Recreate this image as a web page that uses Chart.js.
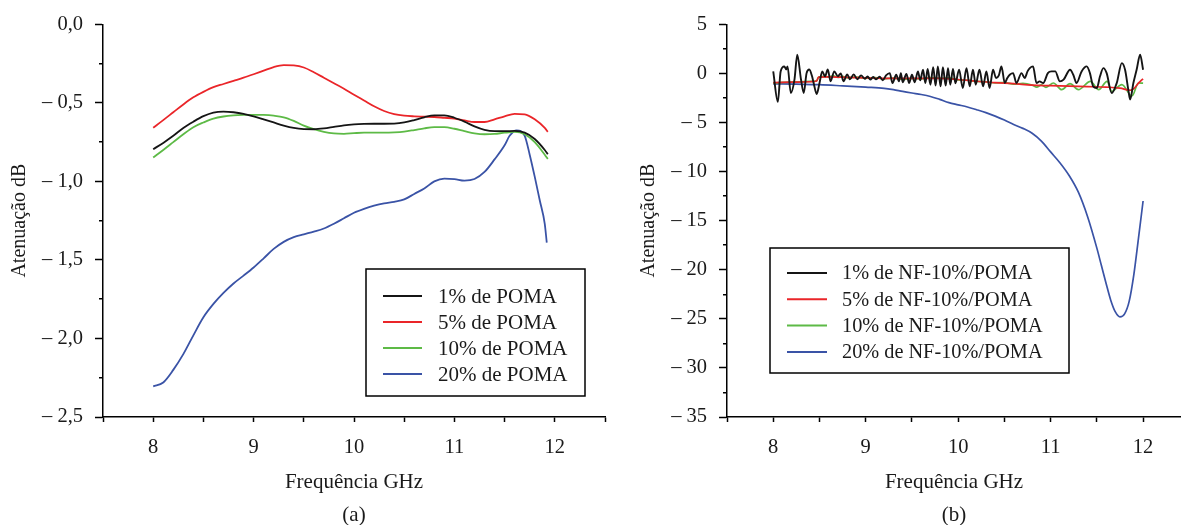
<!DOCTYPE html>
<html>
<head>
<meta charset="utf-8">
<script src="https://cdn.jsdelivr.net/npm/chart.js@4/dist/chart.umd.min.js"></script>
<style>
  body { margin: 0; background: #fff; }
  #wrap { position: relative; width: 1181px; height: 525px; }
  canvas { position: absolute; top: 0; }
</style>
</head>
<body>
<div id="wrap">
  <canvas id="chartA" width="620" height="525" style="left:0"></canvas>
  <canvas id="chartB" width="561" height="525" style="left:620px"></canvas>
</div>
<script>
// (a) POMA
const freqA = [8.0, 8.1, 8.2, 8.3, 8.4, 8.5, 8.6, 8.7, 8.8, 8.9, 9.0, 9.1, 9.2, 9.3, 9.4, 9.5, 9.6, 9.7, 9.8, 9.9,
  10.0, 10.1, 10.2, 10.3, 10.4, 10.5, 10.6, 10.7, 10.8, 10.9, 11.0, 11.1, 11.2, 11.3, 11.4, 11.5, 11.6, 11.7, 11.8, 11.9, 11.93];
const poma1 = [-0.795, -0.755, -0.71, -0.66, -0.62, -0.585, -0.562, -0.556, -0.56, -0.57, -0.586, -0.605, -0.625, -0.645, -0.66, -0.667, -0.668, -0.663, -0.653, -0.643,
  -0.637, -0.634, -0.633, -0.633, -0.632, -0.625, -0.61, -0.592, -0.58, -0.58, -0.595, -0.62, -0.65, -0.672, -0.68, -0.68, -0.679, -0.69, -0.73, -0.80, -0.827];
const poma5 = [-0.658, -0.61, -0.56, -0.51, -0.465, -0.43, -0.40, -0.38, -0.36, -0.34, -0.318, -0.295, -0.272, -0.26, -0.262, -0.275, -0.305, -0.34, -0.375, -0.41,
  -0.448, -0.485, -0.522, -0.552, -0.572, -0.582, -0.586, -0.588, -0.59, -0.595, -0.60, -0.612, -0.622, -0.622, -0.605, -0.586, -0.57, -0.573, -0.605, -0.66, -0.685];
const poma10 = [-0.848, -0.80, -0.75, -0.70, -0.655, -0.625, -0.60, -0.587, -0.58, -0.577, -0.576, -0.577, -0.582, -0.592, -0.615, -0.645, -0.668, -0.685, -0.695, -0.697,
  -0.693, -0.69, -0.69, -0.69, -0.688, -0.683, -0.673, -0.662, -0.655, -0.655, -0.665, -0.68, -0.694, -0.70, -0.698, -0.69, -0.685, -0.70, -0.75, -0.83, -0.857];
const freqA20 = [8.0, 8.1, 8.2, 8.3, 8.4, 8.5, 8.6, 8.7, 8.8, 8.9, 9.0, 9.1, 9.2, 9.3, 9.4, 9.5, 9.6, 9.7, 9.8, 9.9,
  10.0, 10.1, 10.2, 10.3, 10.4, 10.5, 10.6, 10.7, 10.8, 10.9, 11.0, 11.1, 11.2, 11.3, 11.4, 11.5, 11.55, 11.62, 11.7, 11.75, 11.8, 11.85, 11.9, 11.92];
const poma20 = [-2.305, -2.28, -2.20, -2.10, -1.98, -1.865, -1.78, -1.71, -1.65, -1.60, -1.548, -1.49, -1.43, -1.385, -1.355, -1.337, -1.32, -1.30, -1.27, -1.235,
  -1.20, -1.175, -1.155, -1.14, -1.13, -1.115, -1.08, -1.045, -1.00, -0.982, -0.985, -0.995, -0.985, -0.94, -0.86, -0.77, -0.71, -0.675, -0.71, -0.83, -0.97, -1.12, -1.27, -1.39];

const xTicksA = [7.5, 8, 8.5, 9, 9.5, 10, 10.5, 11, 11.5, 12, 12.5];
const yTicksA = [-2.5, -2.0, -1.5, -1.0, -0.5, 0];
const yLabelsA = ['\u2013 2,5', '\u2013 2,0', '\u2013 1,5', '\u2013 1,0', '\u2013 0,5', '0,0'];
const yMinorA = [-2.25, -1.75, -1.25, -0.75, -0.25];

// (b) NF-10%/POMA
const nf1Freq = [8.00, 8.05, 8.08, 8.12, 8.14, 8.155, 8.19, 8.23, 8.26, 8.30, 8.33, 8.36, 8.39, 8.42, 8.44, 8.47, 8.50, 8.53, 8.56, 8.59,
  8.62, 8.66, 8.70, 8.73, 8.76, 8.80, 8.83, 8.87, 8.91, 8.95, 8.99, 9.02, 9.05, 9.08, 9.11, 9.15, 9.185, 9.22, 9.26, 9.29,
  9.33, 9.36, 9.38, 9.40, 9.44, 9.47, 9.50, 9.53, 9.565, 9.59, 9.62, 9.645, 9.67, 9.70, 9.73, 9.756, 9.78, 9.81, 9.835, 9.865,
  9.89, 9.915, 9.944, 9.97, 10.01, 10.05, 10.09, 10.125, 10.16, 10.19, 10.23, 10.27, 10.305, 10.34, 10.377, 10.41, 10.44, 10.468, 10.504, 10.53,
  10.558, 10.594, 10.63, 10.685, 10.72, 10.75, 10.775, 10.81, 10.847, 10.88, 10.92, 10.97, 11.01, 11.05, 11.10, 11.14, 11.21, 11.245, 11.28, 11.335,
  11.39, 11.425, 11.46, 11.50, 11.534, 11.57, 11.606, 11.66, 11.715, 11.77, 11.805, 11.84, 11.86, 11.895, 11.93, 11.968, 12.0];
const nf1 = [0.2, -2.9, 0.2, 0.7, 0.4, 0.7, -2.0, -0.6, 1.9, -0.6, -2.0, 0.0, 0.4, -0.3, -1.1, -2.1, -1.0, 0.2, -0.3, 0.4,
  -0.8, 0.2, -0.3, 0.0, -0.8, -0.1, -0.6, -0.1, -0.6, -0.2, -0.55, -0.3, -0.64, -0.37, -0.6, -0.35, -0.7, -0.2, 0.03, -0.98,
  -0.14, -0.81, 0.03, -0.9, -0.07, -0.98, -0.14, -0.9, 0.2, -0.7, 0.37, -0.98, 0.44, -1.15, 0.64, -1.25, 0.71, -1.32, 0.64, -1.25,
  0.54, -1.15, 0.44, -1.0, 0.37, -1.49, 0.54, -1.32, 0.37, -1.15, 0.37, -1.32, 0.2, -1.49, 0.37, -0.47, -0.2, 0.71, -0.98, -0.5,
  -0.14, 0.03, -0.98, 0.03, -0.47, 0.2, 0.54, 0.71, -0.98, -0.81, -0.98, 0.03, 0.2, 0.2, -0.81, -0.64, 0.37, -0.14, -0.98, 0.2,
  0.71, 0.03, -1.32, -1.49, -0.3, 0.54, 0.03, -2.0, -0.98, 1.05, 0.37, -1.66, -2.67, -0.98, 0.37, 1.9, 0.37];
const nf5Freq = [8.0, 8.2, 8.4, 8.47, 8.49, 8.6, 8.8, 9.0, 9.2, 9.4, 9.6, 9.8, 10.0, 10.2, 10.4, 10.6, 10.8, 11.0, 11.2, 11.4, 11.6, 11.75, 11.86, 11.9, 11.95, 12.0];
const nf5 = [-0.95, -0.9, -0.85, -0.78, -0.38, -0.35, -0.4, -0.45, -0.5, -0.5, -0.5, -0.5, -0.62, -0.8, -0.95, -1.05, -1.2, -1.25, -1.3, -1.35, -1.4, -1.5, -1.72, -1.55, -1.0, -0.55];
const nf10Freq = [8.0, 8.1, 8.2, 8.3, 8.4, 8.47, 8.49, 8.55, 8.6, 8.65, 8.7, 8.75, 8.8, 8.9, 9.0, 9.1, 9.2, 9.3, 9.4, 9.5,
  9.6, 9.7, 9.8, 9.9, 10.0, 10.1, 10.2, 10.3, 10.4, 10.5, 10.6, 10.7, 10.8, 10.85, 10.9, 10.95, 11.03, 11.12, 11.21, 11.30,
  11.43, 11.52, 11.61, 11.66, 11.77, 11.88, 11.95, 12.0];
const nf10 = [-1.0, -0.92, -0.88, -0.85, -0.82, -0.76, -0.4, -0.3, -0.36, -0.26, -0.4, -0.3, -0.45, -0.38, -0.5, -0.44, -0.55, -0.48, -0.6, -0.5,
  -0.56, -0.42, -0.5, -0.45, -0.66, -0.7, -0.82, -0.85, -0.96, -0.94, -1.1, -1.02, -1.2, -1.4, -1.18, -1.42, -0.98, -1.66, -1.05, -1.66,
  -0.81, -1.66, -0.81, -1.83, -1.15, -2.3, -0.98, -1.0];
const nf20Freq = [8.0, 8.25, 8.5, 8.75, 9.0, 9.2, 9.3, 9.4, 9.5, 9.6, 9.7, 9.8, 9.9, 10.0, 10.1, 10.2, 10.3, 10.4, 10.5, 10.6,
  10.7, 10.8, 10.9, 11.0, 11.1, 11.2, 11.3, 11.4, 11.5, 11.55, 11.6, 11.65, 11.7, 11.75, 11.8, 11.85, 11.9, 11.95, 12.0];
const nf20 = [-1.06, -1.1, -1.15, -1.27, -1.4, -1.52, -1.66, -1.84, -2.0, -2.15, -2.35, -2.65, -2.98, -3.2, -3.42, -3.7, -4.0, -4.35, -4.75, -5.2,
  -5.6, -6.1, -6.9, -8.0, -9.1, -10.4, -12.1, -14.6, -17.8, -19.6, -21.4, -23.1, -24.3, -24.8, -24.5, -23.2, -20.5, -16.8, -13.0];

const xTicksB = [7.5, 8, 8.5, 9, 9.5, 10, 10.5, 11, 11.5, 12];
const yTicksB = [-35, -30, -25, -20, -15, -10, -5, 0, 5];
const yLabelsB = ['\u2013 35', '\u2013 30', '\u2013 25', '\u2013 20', '\u2013 15', '\u2013 10', '\u2013 5', '0', '5'];
const yMinorB = [-32.5, -27.5, -22.5, -17.5, -12.5, -7.5, -2.5, 2.5];

const FONT = "'Liberation Serif', 'Times New Roman', serif";
const BLACK = '#151515', RED = '#ea2529', GREEN = '#5dba46', BLUE = '#3a53a6';
Chart.defaults.font.family = FONT;
Chart.defaults.color = '#1a1a1a';

function pairs(xs, ys) {
  return xs.map((x, i) => ({ x: x, y: ys[i] }));
}

function align(p, w) {
  return Math.round(p - w / 2) + w / 2;
}

// boxed legend inside the plot
const boxLegend = {
  id: 'boxLegend',
  afterDraw(chart, args, o) {
    const ctx = chart.ctx;
    ctx.save();
    ctx.lineWidth = 1.5;
    ctx.strokeStyle = '#000';
    ctx.strokeRect(o.left, o.top, o.width, o.height);
    ctx.font = o.fontSize + 'px ' + FONT;
    ctx.textBaseline = 'middle';
    ctx.fillStyle = '#1a1a1a';
    chart.data.datasets.forEach((ds, i) => {
      const y = o.firstRow + i * o.rowGap;
      ctx.strokeStyle = ds.borderColor;
      ctx.lineWidth = 2;
      ctx.beginPath();
      ctx.moveTo(o.lineFrom, y);
      ctx.lineTo(o.lineTo, y);
      ctx.stroke();
      ctx.fillText(ds.label, o.textX, y + 1);
    });
    ctx.restore();
  }
};

// short ticks between the labelled ones on the y axis
const minorTicks = {
  id: 'minorTicks',
  afterDraw(chart, args, o) {
    const s = chart.scales.y;
    const ctx = chart.ctx;
    ctx.save();
    ctx.strokeStyle = '#000';
    ctx.lineWidth = 1.5;
    o.values.forEach(v => {
      const y = align(s.getPixelForValue(v), 1.5);
      ctx.beginPath();
      ctx.moveTo(s.right - o.length, y);
      ctx.lineTo(s.right, y);
      ctx.stroke();
    });
    ctx.restore();
  }
};

function axes(o) {
  return {
    x: {
      type: 'linear', min: 7.5, max: o.xMax,
      afterBuildTicks: s => { s.ticks = o.xTicks.map(v => ({ value: v })); },
      afterFit: s => { s.height = 108; },
      ticks: { autoSkip: false, maxRotation: 0, padding: 13, font: { size: 20.5 },
        callback: v => Number.isInteger(v) ? String(v) : '' },
      grid: { drawOnChartArea: false, tickLength: 5, tickWidth: 1.5, tickColor: '#000' },
      border: { color: '#000', width: 1.5 },
      title: { display: true, text: ['Frequência GHz', o.caption], color: '#1a1a1a',
        font: { size: 21, lineHeight: '33px' }, padding: { top: 0, bottom: -7 } }
    },
    y: {
      min: o.yTicks[0], max: o.yTicks[o.yTicks.length - 1],
      afterBuildTicks: s => { s.ticks = o.yTicks.map(v => ({ value: v })); },
      afterFit: s => { s.width = o.yWidth; },
      ticks: { padding: 12, font: { size: 20.5 },
        callback: v => o.yLabels[o.yTicks.indexOf(v)] },
      grid: { drawOnChartArea: false, tickLength: 8, tickWidth: 1.5, tickColor: '#000' },
      border: { color: '#000', width: 1.5 },
      title: { display: true, text: 'Atenuação dB', color: '#1a1a1a',
        font: { size: 20 }, padding: { top: o.yTitlePad, bottom: 0 } }
    }
  };
}

new Chart(document.getElementById('chartA'), {
  type: 'line',
  data: {
    datasets: [
      { label: '1% de POMA', data: pairs(freqA, poma1), borderColor: BLACK },
      { label: '5% de POMA', data: pairs(freqA, poma5), borderColor: RED },
      { label: '10% de POMA', data: pairs(freqA, poma10), borderColor: GREEN },
      { label: '20% de POMA', data: pairs(freqA20, poma20), borderColor: BLUE }
    ]
  },
  options: {
    responsive: false,
    animation: false,
    layout: { padding: { top: 23, right: 15, bottom: 0, left: 0 } },
    elements: { point: { radius: 0 }, line: { borderWidth: 1.8, cubicInterpolationMode: 'monotone' } },
    plugins: {
      legend: { display: false },
      tooltip: { enabled: false },
      boxLegend: { left: 366, top: 269, width: 219, height: 127, firstRow: 296, rowGap: 26, lineFrom: 383, lineTo: 422, textX: 438, fontSize: 21 },
      minorTicks: { values: yMinorA, length: 4 }
    },
    scales: axes({ xMax: 12.5, xTicks: xTicksA, caption: '(a)', yTicks: yTicksA, yLabels: yLabelsA, yWidth: 103, yTitlePad: 8 })
  },
  plugins: [boxLegend, minorTicks]
});

new Chart(document.getElementById('chartB'), {
  type: 'line',
  data: {
    datasets: [
      { label: '1% de NF-10%/POMA', data: pairs(nf1Freq, nf1), borderColor: BLACK, borderWidth: 1.9 },
      { label: '5% de NF-10%/POMA', data: pairs(nf5Freq, nf5), borderColor: RED },
      { label: '10% de NF-10%/POMA', data: pairs(nf10Freq, nf10), borderColor: GREEN },
      { label: '20% de NF-10%/POMA', data: pairs(nf20Freq, nf20), borderColor: BLUE }
    ]
  },
  options: {
    responsive: false,
    animation: false,
    layout: { padding: { top: 23, right: 0, bottom: 0, left: 0 } },
    elements: { point: { radius: 0 }, line: { borderWidth: 1.7, cubicInterpolationMode: 'monotone' } },
    plugins: {
      legend: { display: false },
      tooltip: { enabled: false },
      boxLegend: { left: 150, top: 248, width: 299, height: 125, firstRow: 273, rowGap: 26.3, lineFrom: 167, lineTo: 207, textX: 222, fontSize: 20.3 },
      minorTicks: { values: yMinorB, length: 4 }
    },
    scales: axes({ xMax: 12.41, xTicks: xTicksB, caption: '(b)', yTicks: yTicksB, yLabels: yLabelsB, yWidth: 107, yTitlePad: 17 })
  },
  plugins: [boxLegend, minorTicks]
});
</script>
</body>
</html>
